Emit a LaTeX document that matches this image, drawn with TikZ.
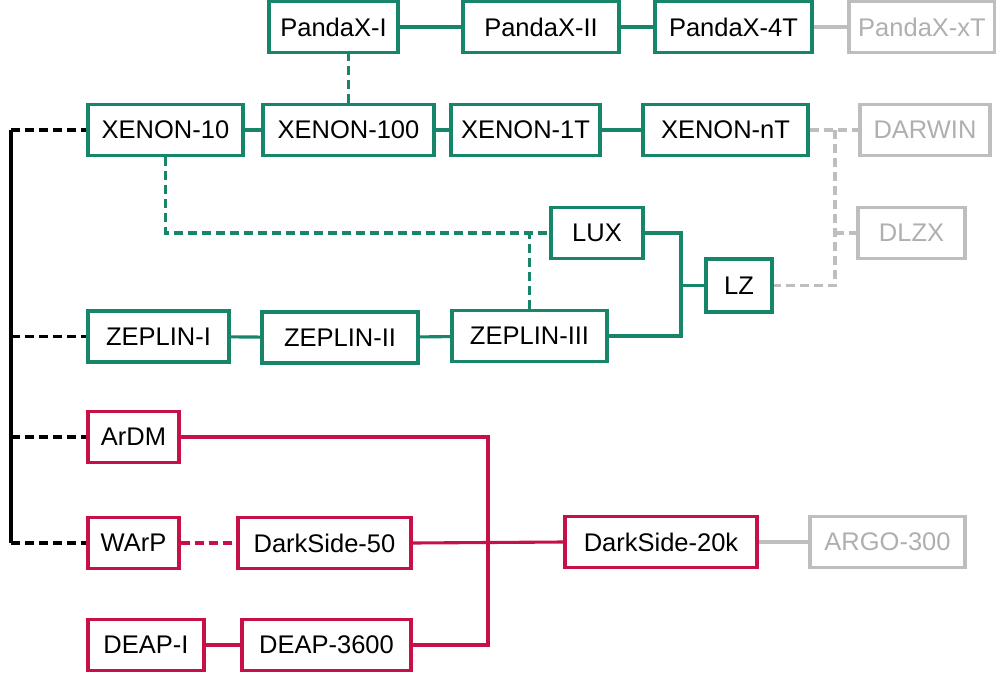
\documentclass[tikz,border=0pt]{standalone}
\usepackage{fontspec}
\setmainfont{Liberation Sans}
\definecolor{xegreen}{RGB}{22,133,105}
\definecolor{arred}{RGB}{200,16,72}
\definecolor{futgrey}{RGB}{190,190,190}

\tikzset{
  expt/.style={draw,line width=3.1pt,inner sep=0pt,minimum height=51pt,
    font=\fontsize{25.5}{30}\selectfont},
  xenon/.style={expt,draw=xegreen},
  argon/.style={expt,draw=arred},
  future/.style={expt,draw=futgrey,text=futgrey!92!black},
  link/.style={line width=3.1pt},
  maybe/.style={link,dash pattern=on 9pt off 5pt},
}

\begin{document}
\begin{tikzpicture}[x=1pt,y=-1pt]
    \useasboundingbox (0,0) rectangle (996,675);
    % xenon
    \node[xenon,minimum width=129pt] (px1) at (333.5,27) {PandaX-I};
    \node[xenon,minimum width=156pt] (px2) at (541,27) {PandaX-II};
    \node[xenon,minimum width=157pt] (px4) at (733.5,27) {PandaX-4T};
    \node[future,minimum width=146pt] (pxx) at (922,27) {PandaX-xT};
    \node[xenon,minimum width=155pt] (xe10) at (165.5,130) {XENON-10};
    \node[xenon,minimum width=171pt] (xe100) at (348.5,130) {XENON-100};
    \node[xenon,minimum width=149pt] (xe1t) at (525.5,130) {XENON-1T};
    \node[xenon,minimum width=165pt] (xent) at (725.5,130) {XENON-nT};
    \node[future,minimum width=130pt] (darwin) at (925,130) {DARWIN};
    \node[xenon,minimum width=92pt] (lux) at (597,233) {LUX};
    \node[future,minimum width=107pt] (dlzx) at (911.5,233) {DLZX};
    \node[xenon,minimum width=66pt,minimum height=53pt] (lz) at (739,285.5) {LZ};
    \node[xenon,minimum width=141pt] (zep1) at (158.5,336.5) {ZEPLIN-I};
    \node[xenon,minimum width=156pt] (zep2) at (340,337.5) {ZEPLIN-II};
    \node[xenon,minimum width=155pt] (zep3) at (529.5,336) {ZEPLIN-III};
    % argon
    \node[argon,minimum width=91pt] (ardm) at (133.5,437) {ArDM};
    \node[argon,minimum width=91pt] (warp) at (133.5,543) {WArP};
    \node[argon,minimum width=173pt] (ds50) at (324.5,543) {DarkSide-50};
    \node[argon,minimum width=116pt] (deap1) at (146,645) {DEAP-I};
    \node[argon,minimum width=169pt] (deap36) at (326.5,645) {DEAP-3600};
    \node[argon,minimum width=192pt] (ds20k) at (661,542) {DarkSide-20k};
    \node[future,minimum width=155pt] (argo) at (887.5,542) {ARGO-300};

    \coordinate (root) at (11,130);
    \coordinate (lzjoin) at (681,285.5);
    \coordinate (fut) at (835,130);
    \coordinate (dsjoin) at (488,543);

    % roots
    \draw[link] (root) -- (root |- warp.west);
    \foreach \n in {xe10,zep1,ardm,warp}
      \draw[maybe] (root |- \n.west) -- (\n.west);

    % xenon lines
    \draw[link,xegreen] (px1) -- (px2) (px2) -- (px4);
    \draw[link,xegreen] (xe10) -- (xe100) (xe100) -- (xe1t) (xe1t) -- (xent);
    \draw[link,xegreen] (zep1) -- (zep2) (zep2) -- (zep3);
    \draw[maybe,xegreen] (xe100.north) -- (xe100.north |- px1.south);
    \draw[maybe,xegreen] (xe10.south) |- (lux.west);
    \draw[maybe,xegreen] (zep3.north) -- (zep3.north |- lux.west);
    \draw[link,xegreen] (lux.east) -| (lzjoin) |- (zep3.east);
    \draw[link,xegreen] (lzjoin) -- (lz.west);

    % future lines
    \draw[link,futgrey] (px4) -- (pxx);
    \draw[maybe,futgrey] (xent.east) -- (fut) -- (darwin.west);
    \draw[maybe,futgrey] (fut) -- (fut |- lz.east) -- (lz.east);
    \draw[maybe,futgrey] (fut |- dlzx.west) -- (dlzx.west);
    \draw[link,futgrey] (ds20k) -- (argo);

    % argon lines
    \draw[maybe,arred] (warp) -- (ds50);
    \draw[link,arred] (deap1) -- (deap36);
    \draw[link,arred] (ardm.east) -| (dsjoin) |- (deap36.east);
    \draw[link,arred] (ds50.east) -- (ds20k.west);
\end{tikzpicture}
\end{document}
